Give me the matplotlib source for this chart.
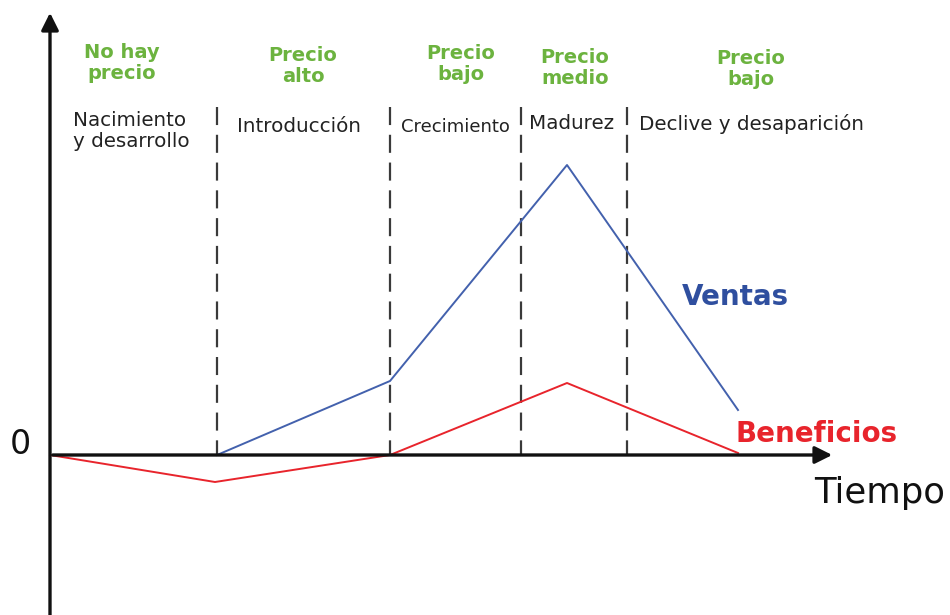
import matplotlib
matplotlib.use('Agg')
import matplotlib.pyplot as plt

#%% Data (time in arbitrary units, value 0 = x axis)
t_ventas = [16.7, 34.0, 51.7, 68.8]
ventas = [0.0, 7.4, 29.0, 4.5]
t_benef = [0.0, 16.5, 34.0, 51.7, 68.8]
beneficios = [0.0, -2.7, 0.0, 7.2, 0.2]
limites = [16.7, 34.0, 47.1, 57.7]
etapas = ['Nacimiento\ny desarrollo', 'Introducción', 'Crecimiento', 'Madurez', 'Declive y desaparición']
precios = ['No hay\nprecio', 'Precio\nalto', 'Precio\nbajo', 'Precio\nmedio', 'Precio\nbajo']

#%% Figure
plt.rcParams['lines.scale_dashes'] = False
fig = plt.figure(figsize=(9.5, 6.15), dpi=100)
ax = fig.add_axes([0, 0, 1, 1])
ax.set_xlim(-5.0, 90.0)
ax.set_ylim(-16.0, 45.5)
ax.axis('off')

green = '#6cb33f'
blue = '#4361ad'
red = '#e8242c'

# axes with arrows
ax.annotate('', xy=(0, 44.5), xytext=(0, -16.5),
            arrowprops=dict(arrowstyle='-|>', lw=2.4, color='#111111', mutation_scale=26))
ax.annotate('', xy=(78.5, 0), xytext=(0, 0),
            arrowprops=dict(arrowstyle='-|>', lw=2.4, color='#111111', mutation_scale=26))

# phase separators (drawn top -> bottom so the dash pattern starts at the top)
for xl in limites:
    ax.plot([xl, xl], [34.8, 0], color='#3a3a3a', lw=1.6, linestyle=(0, (13.0, 7.0)))

ax.plot(t_ventas, ventas, color=blue, lw=1.4)
ax.plot(t_benef, beneficios, color=red, lw=1.4)

# stage labels
ax.text(2.3, 32.4, etapas[0], fontsize=14.3, color='#222222', ha='left', va='center', linespacing=1.12)
ax.text(18.7, 32.8, etapas[1], fontsize=14.3, color='#222222', ha='left', va='center')
ax.text(35.1, 32.8, etapas[2], fontsize=13, color='#222222', ha='left', va='center')
ax.text(47.9, 33.1, etapas[3], fontsize=14.3, color='#222222', ha='left', va='center')
ax.text(58.9, 33.1, etapas[4], fontsize=14.3, color='#222222', ha='left', va='center')

# price labels
pos_precio = [(7.2, 39.2), (25.3, 38.9), (41.1, 39.1), (52.5, 38.7), (70.1, 38.6)]
for (xp, yp), lab in zip(pos_precio, precios):
    ax.text(xp, yp, lab, fontsize=14, fontweight='bold', color=green,
            ha='center', va='center', linespacing=1.12)

ax.text(68.5, 15.8, 'Ventas', fontsize=20, fontweight='bold', color='#2f4f9f', ha='center', va='center')
ax.text(76.65, 2.1, 'Beneficios', fontsize=20, fontweight='bold', color=red, ha='center', va='center')
ax.text(-3.0, 1.0, '0', fontsize=24, color='#111111', ha='center', va='center')
ax.text(83.0, -3.8, 'Tiempo', fontsize=25.5, color='#111111', ha='center', va='center')

fig.savefig('out.png', dpi=100)
